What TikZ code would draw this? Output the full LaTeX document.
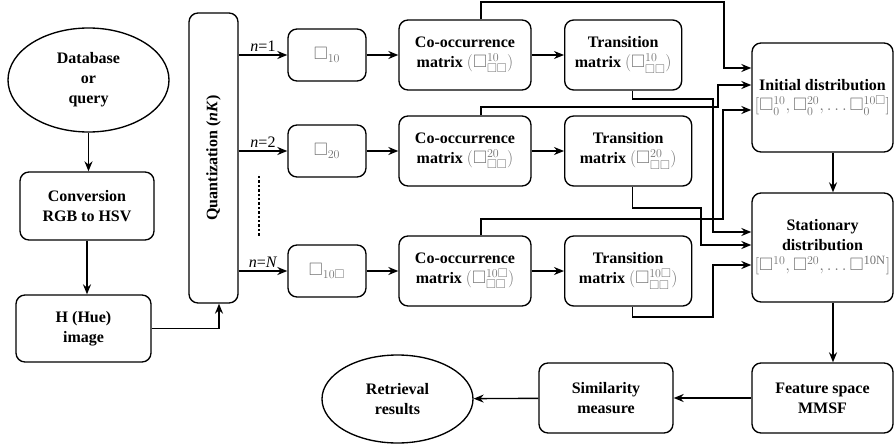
\documentclass[tikz,border=0pt]{standalone}
\usepackage{amssymb}
\usepackage{fontspec}
\setmainfont{Liberation Serif}
\usepackage{tikz}
\usetikzlibrary{shapes}
\usetikzlibrary{arrows.meta}
\tikzset{
	box node/.style={draw,rounded corners=9pt,align=center,inner sep=0pt,
		font=\fontsize{16}{20}\selectfont\bfseries},
	oval node/.style={ellipse,draw,align=center,inner sep=0pt,
		font=\fontsize{16}{20}\selectfont\bfseries},
	lbl/.style={font=\fontsize{16}{20}\selectfont,inner sep=0pt}
}
\newcommand{\gsym}[1]{{\fontsize{18}{20}\selectfont\mdseries\color{black!55}$#1$}}

\begin{document}
\begin{tikzpicture}[x=1pt,y=-1pt,line width=1.35pt,->,>={Stealth[length=10pt,width=8pt]}]
	\useasboundingbox (0,0) rectangle (894,444);
	% left column
	\node [oval node,minimum width=161pt,minimum height=104pt] (db) at (88.5,80) {Database\\or\\query};
	\node [box node,minimum width=134pt,minimum height=68pt] (conv) at (87,206) {Conversion\\RGB to HSV};
	\node [box node,minimum width=135pt,minimum height=67pt] (hue) at (83.5,328.5) {H (Hue)\\image};
	\node [box node,minimum width=49pt,minimum height=290pt] (quant) at (213.5,158) {};
	\node [lbl,rotate=90,font=\fontsize{16}{20}\selectfont\bfseries] (qlabel) at (quant) {Quantization (\textit{nK})};
	% right column
	\node [box node,minimum width=141pt,minimum height=109pt] (init) at (822.5,97.5)
		{Initial distribution\\\gsym{[\square^{10}_0, \square^{20}_0, \ldots\square^{10\square}_0]}};
	\node [box node,minimum width=141pt,minimum height=109pt] (stat) at (822.5,247.5)
		{Stationary\\distribution\\\gsym{[\square^{10}, \square^{20}, \ldots\square^{\mathrm{10N}}]}};
	\node [box node,minimum width=141pt,minimum height=70pt] (feat) at (822.5,398) {Feature space\\MMSF};
	\node [box node,minimum width=134pt,minimum height=70pt] (sim) at (606,398) {Similarity\\measure};
	\node [oval node,minimum width=151pt,minimum height=88pt] (ret) at (397.5,399) {Retrieval\\results};
	% the three rows
	\foreach \i/\y/\up/\nl/\tw in {1/55/10/1/117,2/151/20/2/127,3/271/{10\square}/\textit{N}/127} {
		\node [box node,minimum width=78pt,minimum height=52pt] (q\i) at (327,\y) {\gsym{\square_{\up}}};
		\node [box node,minimum width=132pt,minimum height=70pt] (co\i) at (465,\y)
			{Co-occurrence\\matrix \gsym{(\square^{\up}_{\square\square})}};
		\node [box node,minimum width=\tw pt,minimum height=70pt,anchor=west] (tr\i) at (564,\y)
			{Transition\\matrix \gsym{(\square^{\up}_{\square\square})}};
		\draw (quant.east |- q\i) -- node [lbl,above=3pt] {\textit{n}=\nl} (q\i);
		\draw (q\i) -- (co\i);
		\draw (co\i) -- (tr\i);
	}
	\draw [-,line width=2.6pt,dash pattern=on 2.4pt off 2pt] (259,176) -- (259,237);
	% flow
	\draw (db.south) -- (db.south |- conv.north);
	\draw (conv.south) -- (conv.south |- hue.north);
	\draw (hue.east) -| ([xshift=5.5pt]quant.south);
	\draw ([xshift=16pt]co1.north) |- (724,2) |- (init.west |- 0,68);
	\draw ([xshift=16pt]co2.north) |- (718,107) |- (init.west |- 0,85);
	\draw ([xshift=16pt]co3.north) |- (723,219) |- (init.west |- 0,110);
	\draw ([xshift=9.5pt]tr1.south) |- (713,99) |- (stat.west |- 0,232);
	\draw ([xshift=4.5pt]tr2.south) |- (701,208) |- (stat.west |- 0,245);
	\draw ([xshift=4.5pt]tr3.south) |- (713,317) |- (stat.west |- 0,265);
	\draw ([xshift=10.5pt]init.south) -- ([xshift=10.5pt]stat.north);
	\draw ([xshift=10.5pt]stat.south) -- ([xshift=10.5pt]feat.north);
	\draw (feat) -- (sim);
	\draw (sim) -- (ret);
\end{tikzpicture}
\end{document}
